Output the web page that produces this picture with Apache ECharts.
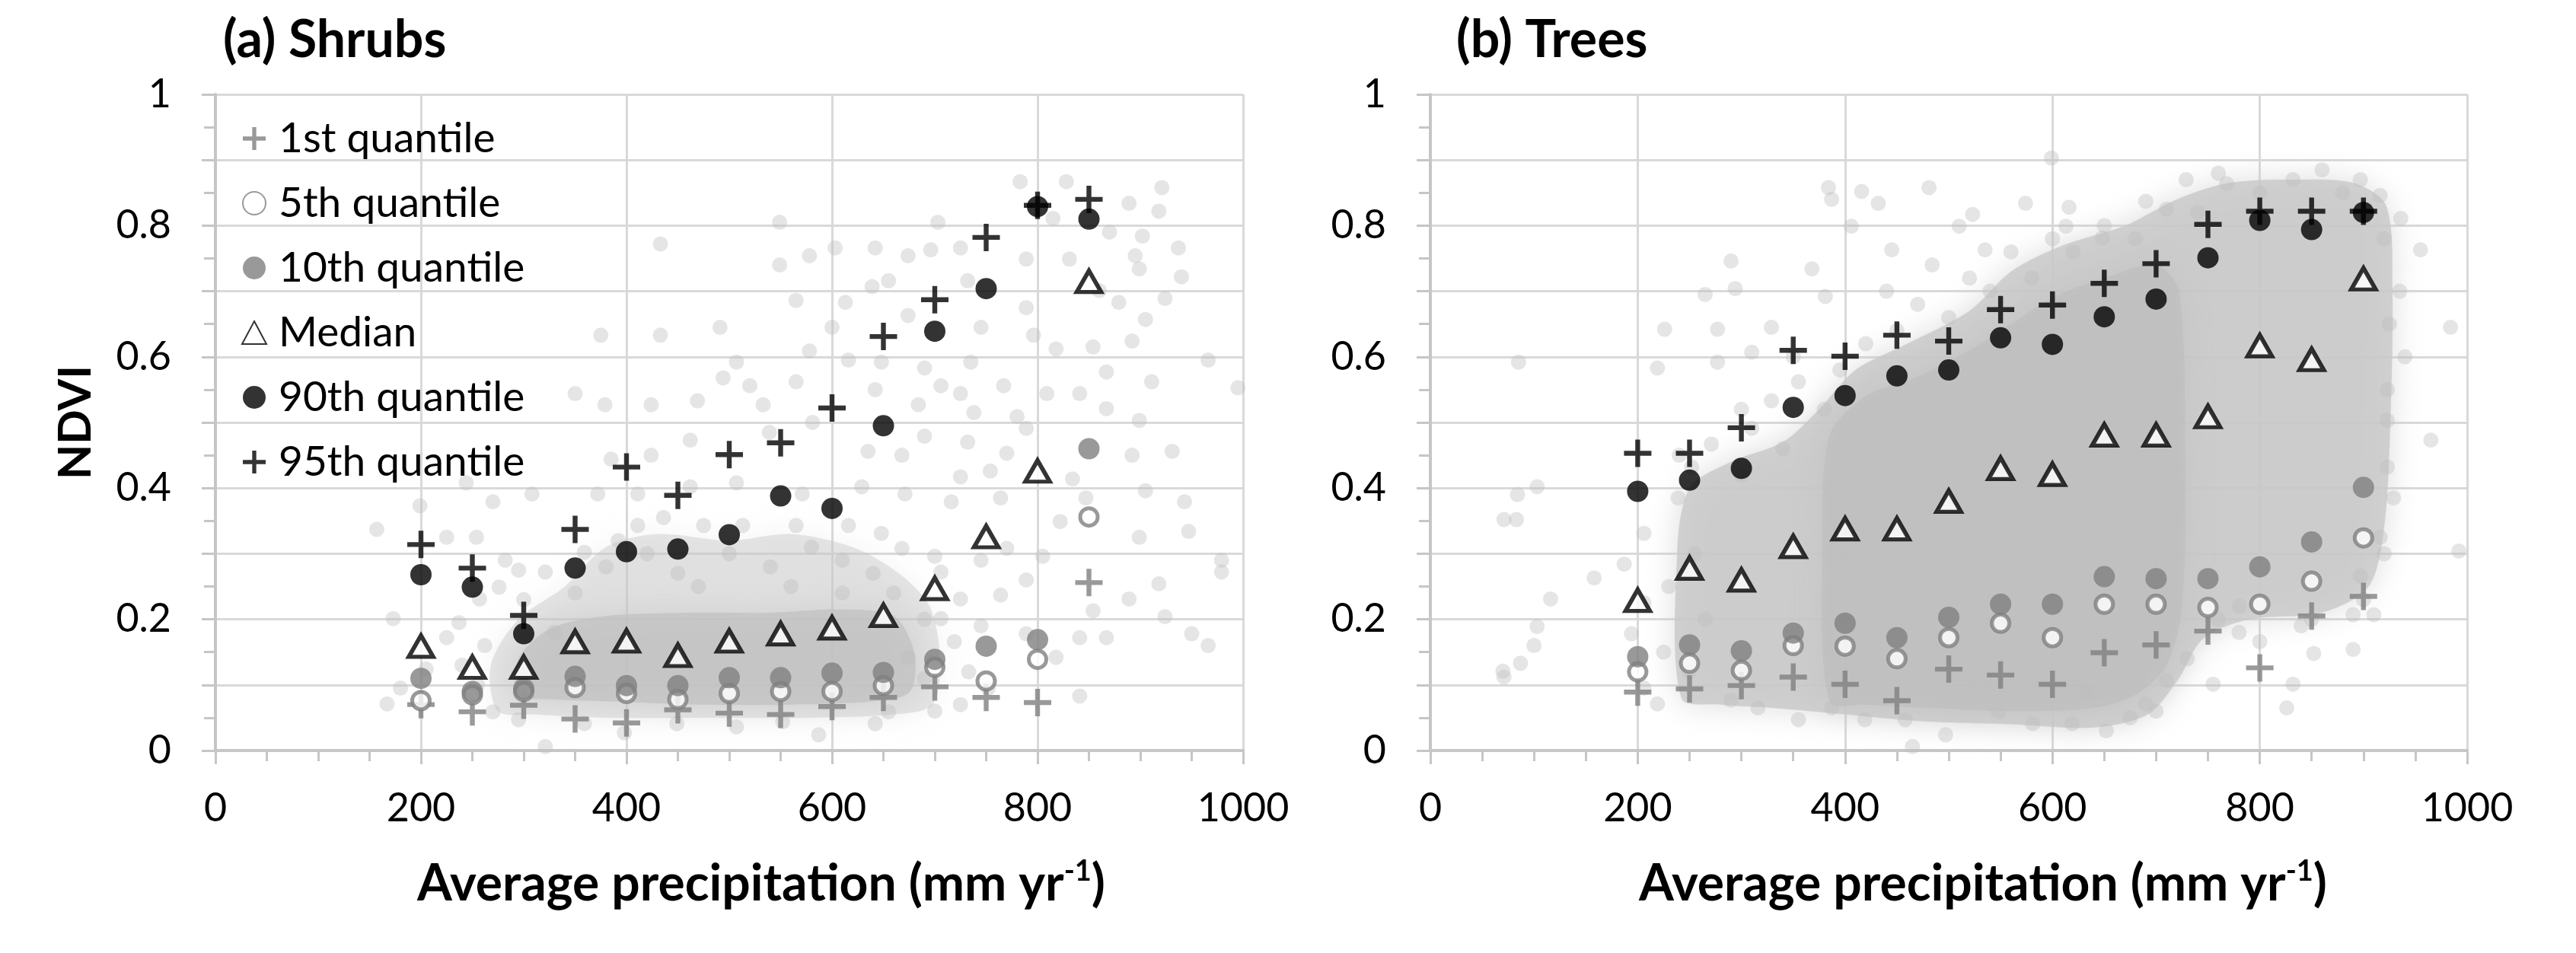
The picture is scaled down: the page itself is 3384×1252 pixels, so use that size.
<!DOCTYPE html>
<html>
<head>
<meta charset="utf-8">
<title>NDVI vs average precipitation</title>
<script src="https://cdn.jsdelivr.net/npm/echarts@6.0.0/dist/echarts.min.js"></script>
<style>
  html, body { margin: 0; padding: 0; background: #fff; }
  #chart { width: 3384px; height: 1252px; }
</style>
</head>
<body>
<div id="chart"></div>
<script>
// precipitation bins (mm yr-1)
const shrubBins = [200, 250, 300, 350, 400, 450, 500, 550, 600, 650, 700, 750, 800, 850]
const treeBins = [200, 250, 300, 350, 400, 450, 500, 550, 600, 650, 700, 750, 800, 850, 900]

// (a) shrubs - NDVI quantiles per bin
const shrubQ1 = [0.070, 0.059, 0.069, 0.048, 0.042, 0.062, 0.057, 0.055, 0.067, 0.081, 0.097, 0.081, 0.073, 0.256]
const shrubQ5 = [0.076, 0.085, 0.090, 0.096, 0.087, 0.078, 0.087, 0.090, 0.090, 0.099, 0.127, 0.106, 0.139, 0.356]
const shrubQ10 = [0.110, 0.090, 0.094, 0.113, 0.099, 0.099, 0.111, 0.111, 0.118, 0.119, 0.139, 0.159, 0.169, 0.460]
const shrubMedian = [0.159, 0.127, 0.127, 0.166, 0.167, 0.145, 0.167, 0.178, 0.187, 0.206, 0.247, 0.326, 0.426, 0.715]
const shrubQ90 = [0.268, 0.249, 0.178, 0.278, 0.303, 0.307, 0.329, 0.388, 0.369, 0.495, 0.639, 0.704, 0.829, 0.810]
const shrubQ95 = [0.314, 0.278, 0.206, 0.337, 0.432, 0.389, 0.451, 0.469, 0.522, 0.631, 0.687, 0.782, 0.831, 0.840]

// (b) trees - NDVI quantiles per bin
const treeQ1 = [0.089, 0.094, 0.099, 0.112, 0.101, 0.076, 0.124, 0.115, 0.101, 0.149, 0.161, 0.182, 0.126, 0.205, 0.235]
const treeQ5 = [0.120, 0.133, 0.122, 0.160, 0.159, 0.140, 0.172, 0.194, 0.172, 0.223, 0.223, 0.218, 0.223, 0.258, 0.324]
const treeQ10 = [0.143, 0.161, 0.152, 0.179, 0.194, 0.172, 0.203, 0.223, 0.223, 0.265, 0.262, 0.262, 0.280, 0.318, 0.401]
const treeMedian = [0.229, 0.278, 0.260, 0.311, 0.338, 0.338, 0.380, 0.430, 0.421, 0.481, 0.481, 0.509, 0.617, 0.596, 0.719]
const treeQ90 = [0.395, 0.412, 0.430, 0.523, 0.541, 0.571, 0.580, 0.629, 0.619, 0.661, 0.688, 0.751, 0.808, 0.794, 0.820]
const treeQ95 = [0.453, 0.453, 0.492, 0.610, 0.601, 0.633, 0.624, 0.672, 0.679, 0.712, 0.742, 0.802, 0.822, 0.822, 0.822]

// individual pixels (precip, NDVI)
const shrubPixels = [
  [783, 0.867], [828, 0.867], [921, 0.858], [889, 0.834], [918, 0.822], [815, 0.811], [870, 0.790], [902, 0.784],
  [937, 0.766], [549, 0.805], [703, 0.805], [642, 0.766], [674, 0.754], [696, 0.763], [725, 0.766], [789, 0.749],
  [831, 0.749], [895, 0.754], [433, 0.772], [549, 0.740], [578, 0.754], [603, 0.766], [655, 0.716], [732, 0.716],
  [940, 0.722], [899, 0.734], [860, 0.701], [879, 0.683], [924, 0.689], [565, 0.686], [613, 0.683], [639, 0.707],
  [789, 0.675], [905, 0.657], [491, 0.645], [600, 0.645], [674, 0.663], [745, 0.645], [375, 0.633], [433, 0.633],
  [796, 0.633], [818, 0.612], [892, 0.624], [854, 0.615], [578, 0.609], [616, 0.595], [648, 0.592], [690, 0.583],
  [735, 0.592], [966, 0.595], [867, 0.577], [911, 0.562], [507, 0.592], [494, 0.568], [520, 0.556], [565, 0.562],
  [642, 0.550], [706, 0.556], [767, 0.556], [809, 0.544], [841, 0.544], [995, 0.553], [350, 0.544], [379, 0.527],
  [424, 0.527], [469, 0.533], [533, 0.527], [581, 0.500], [684, 0.527], [725, 0.544], [738, 0.515], [780, 0.509],
  [867, 0.521], [899, 0.503], [789, 0.491], [690, 0.479], [732, 0.470], [770, 0.453], [892, 0.450], [931, 0.456],
  [668, 0.450], [635, 0.456], [462, 0.473], [539, 0.485], [424, 0.450], [385, 0.444], [725, 0.417], [754, 0.426],
  [834, 0.414], [905, 0.396], [943, 0.379], [244, 0.408], [270, 0.379], [308, 0.391], [372, 0.391], [411, 0.391],
  [462, 0.402], [507, 0.408], [571, 0.391], [629, 0.402], [671, 0.391], [716, 0.379], [764, 0.385], [847, 0.385],
  [822, 0.349], [899, 0.325], [947, 0.334], [979, 0.290], [979, 0.272], [918, 0.254], [889, 0.231], [924, 0.204],
  [950, 0.178], [966, 0.160], [854, 0.213], [841, 0.172], [867, 0.172], [841, 0.083], [818, 0.142], [764, 0.237],
  [789, 0.260], [745, 0.290], [770, 0.308], [805, 0.296], [157, 0.337], [199, 0.373], [225, 0.325], [254, 0.325],
  [282, 0.290], [321, 0.272], [173, 0.201], [167, 0.071], [180, 0.095], [205, 0.124], [225, 0.172], [237, 0.195],
  [257, 0.231], [276, 0.249], [295, 0.275], [359, 0.302], [392, 0.320], [411, 0.343], [436, 0.355], [475, 0.343],
  [513, 0.343], [565, 0.343], [616, 0.343], [648, 0.331], [668, 0.308], [700, 0.296], [706, 0.272], [725, 0.231],
  [706, 0.201], [719, 0.166], [642, 0.041], [587, 0.024], [552, 0.044], [507, 0.036], [449, 0.041], [398, 0.027],
  [359, 0.041], [321, 0.006], [295, 0.047], [270, 0.059], [789, 0.178], [674, 0.142], [655, 0.059], [733, 0.120],
  [752, 0.095], [745, 0.190], [725, 0.070], [690, 0.110], [700, 0.060], [255, 0.100], [240, 0.130], [262, 0.160],
  [380, 0.280], [420, 0.300], [450, 0.270], [500, 0.300], [540, 0.280], [580, 0.310], [610, 0.290], [640, 0.270],
  [350, 0.240], [470, 0.250], [560, 0.250], [660, 0.240], [300, 0.230], [330, 0.180], [690, 0.200], [610, 0.240]
]

const treePixels = [
  [71, 0.112], [70, 0.121], [87, 0.133], [71, 0.352], [83, 0.352], [84, 0.390], [103, 0.402], [85, 0.592],
  [116, 0.231], [158, 0.263], [103, 0.189], [100, 0.160], [226, 0.642], [277, 0.642], [290, 0.746], [265, 0.695],
  [294, 0.704], [219, 0.583], [277, 0.592], [310, 0.607], [329, 0.645], [384, 0.858], [387, 0.840], [416, 0.852],
  [432, 0.834], [481, 0.858], [445, 0.763], [406, 0.799], [368, 0.734], [381, 0.692], [484, 0.740], [510, 0.799],
  [523, 0.817], [535, 0.763], [574, 0.834], [616, 0.828], [613, 0.799], [648, 0.781], [690, 0.837], [710, 0.825],
  [729, 0.870], [768, 0.864], [832, 0.870], [897, 0.870], [916, 0.846], [936, 0.811], [955, 0.763], [984, 0.645],
  [965, 0.473], [992, 0.304], [923, 0.550], [923, 0.503], [923, 0.432], [929, 0.385], [916, 0.325], [897, 0.266],
  [890, 0.154], [832, 0.101], [826, 0.065], [755, 0.101], [690, 0.071], [652, 0.030], [619, 0.041], [581, 0.041],
  [548, 0.059], [497, 0.024], [465, 0.006], [458, 0.047], [419, 0.047], [387, 0.065], [355, 0.047], [316, 0.065],
  [290, 0.077], [219, 0.071], [206, 0.095], [194, 0.178], [206, 0.225], [187, 0.284], [206, 0.331], [239, 0.385],
  [252, 0.432], [271, 0.467], [310, 0.491], [329, 0.533], [355, 0.562], [890, 0.207], [910, 0.207], [800, 0.166],
  [852, 0.148], [710, 0.107], [632, 0.089], [599, 0.903], [440, 0.700], [470, 0.680], [520, 0.720], [560, 0.760],
  [600, 0.780], [650, 0.800], [420, 0.620], [350, 0.600], [300, 0.520], [240, 0.450], [225, 0.150], [230, 0.250],
  [760, 0.200], [780, 0.220], [850, 0.200], [935, 0.700], [940, 0.600], [675, 0.050], [760, 0.880], [860, 0.885],
  [250, 0.120], [265, 0.200], [255, 0.300], [300, 0.420], [340, 0.460], [380, 0.520], [395, 0.580], [450, 0.640],
  [500, 0.660], [540, 0.700], [580, 0.720], [620, 0.760], [680, 0.780], [740, 0.820], [800, 0.850], [880, 0.850],
  [920, 0.780], [925, 0.650], [920, 0.300], [900, 0.230], [840, 0.190], [780, 0.180], [730, 0.140], [700, 0.060]
]

// outlines of the areas where pixels pile up into solid grey
const shrubCloudOuter = [
  [275, 0.06], [268, 0.13], [295, 0.20], [340, 0.25], [380, 0.31], [430, 0.33], [500, 0.32], [560, 0.33],
  [620, 0.31], [665, 0.27], [695, 0.22], [705, 0.14], [698, 0.07], [660, 0.055], [580, 0.05], [480, 0.05],
  [380, 0.05], [310, 0.055]
]
const shrubCloudCore = [
  [295, 0.085], [295, 0.14], [325, 0.185], [380, 0.205], [460, 0.21], [540, 0.21], [610, 0.215], [660, 0.205],
  [680, 0.15], [676, 0.09], [640, 0.075], [560, 0.07], [470, 0.07], [380, 0.075], [330, 0.078]
]
const treeCloudOuter = [
  [242, 0.08], [238, 0.30], [250, 0.40], [290, 0.44], [340, 0.47], [375, 0.52], [410, 0.58], [460, 0.62],
  [520, 0.67], [560, 0.73], [610, 0.77], [670, 0.80], [720, 0.84], [770, 0.865], [830, 0.87], [890, 0.865],
  [922, 0.83], [928, 0.70], [926, 0.50], [920, 0.34], [905, 0.25], [860, 0.21], [790, 0.20], [745, 0.17],
  [722, 0.11], [692, 0.055], [640, 0.035], [560, 0.04], [470, 0.045], [400, 0.055], [330, 0.065], [280, 0.07]
]
const treeCloudCore = [
  [385, 0.075], [378, 0.30], [385, 0.48], [420, 0.54], [470, 0.57], [520, 0.61], [560, 0.65], [600, 0.69],
  [650, 0.72], [700, 0.74], [722, 0.70], [728, 0.45], [725, 0.22], [710, 0.13], [680, 0.085], [640, 0.065],
  [560, 0.06], [480, 0.065], [420, 0.07]
]

const yLabelValues = [0, 0.2, 0.4, 0.6, 0.8, 1]
const seriesNames = ['1st quantile', '5th quantile', '10th quantile', 'Median', '90th quantile', '95th quantile']

const FONT = 'Lato'
const GREY = '#7f7f7f'
// filled "+" marker
const PLUS = 'path://M-3.2,-18H3.2V-3.2H18V3.2H3.2V18H-3.2V3.2H-18V-3.2H-3.2Z'

const markerStyles = [
  { symbol: PLUS, symbolSize: 36, itemStyle: { color: GREY } },
  { symbol: 'circle', symbolSize: 23, itemStyle: { color: '#fff', borderColor: GREY, borderWidth: 5 } },
  { symbol: 'circle', symbolSize: 28, itemStyle: { color: GREY } },
  { symbol: 'triangle', symbolSize: [32, 28], itemStyle: { color: '#fff', borderColor: '#000', borderWidth: 5.5 } },
  { symbol: 'circle', symbolSize: 28, itemStyle: { color: '#000' } },
  { symbol: PLUS, symbolSize: 36, itemStyle: { color: '#000' } }
]

function pairs (bins, values) {
  return bins.map((b, i) => [b, values[i]])
}

function cloudSeries (verts, fill, gridIndex) {
  return {
    type: 'custom',
    xAxisIndex: gridIndex,
    yAxisIndex: gridIndex,
    silent: true,
    z: 1,
    data: verts,
    renderItem (params, api) {
      if (params.dataIndex !== 0) return null
      return {
        type: 'polygon',
        shape: { points: verts.map(v => api.coord(v)), smooth: 0.3 },
        style: { fill: fill, shadowBlur: 40, shadowColor: fill }
      }
    }
  }
}

function pixelSeries (pts, gridIndex) {
  return {
    type: 'scatter',
    xAxisIndex: gridIndex,
    yAxisIndex: gridIndex,
    silent: true,
    z: 2,
    symbolSize: 20,
    itemStyle: { color: '#bdbdbd', opacity: 0.4 },
    data: pts
  }
}

function quantileSeries (bins, groups, gridIndex) {
  return groups.map((vals, i) => Object.assign({
    name: seriesNames[i],
    type: 'scatter',
    xAxisIndex: gridIndex,
    yAxisIndex: gridIndex,
    z: 10 + i,
    data: pairs(bins, vals)
  }, markerStyles[i]))
}

const axisGrey = '#c6c6c6'
const xNameStyle = (shift) => ({
  padding: [0, 0, 0, shift],
  rich: {
    a: { fontFamily: FONT, fontWeight: 'bold', fontSize: 66, color: '#000', lineHeight: 80 },
    s: { fontFamily: FONT, fontWeight: 'bold', fontSize: 38, color: '#000', lineHeight: 80, verticalAlign: 'top', padding: [4, 0, 0, 0] }
  }
})

function xAxis (gridIndex, shift) {
  return {
    type: 'value',
    gridIndex: gridIndex,
    min: 0,
    max: 1000,
    interval: 200,
    name: '{a|Average precipitation (mm yr}{s|-1}{a|)}',
    nameLocation: 'middle',
    nameGap: 136,
    nameTextStyle: xNameStyle(shift),
    axisLine: { lineStyle: { color: axisGrey, width: 4 } },
    axisTick: { show: true, length: 18, lineStyle: { color: axisGrey, width: 3 } },
    minorTick: { show: true, splitNumber: 4, length: 14, lineStyle: { color: axisGrey, width: 3 } },
    splitLine: { show: true, lineStyle: { color: '#d9d9d9', width: 3 } },
    axisLabel: { fontFamily: FONT, fontSize: 52, color: '#000', margin: 50, formatter: v => String(v) }
  }
}

function yAxis (gridIndex, withName) {
  return {
    type: 'value',
    gridIndex: gridIndex,
    min: 0,
    max: 1,
    interval: 0.1,
    name: withName ? 'NDVI' : '',
    nameLocation: 'middle',
    nameGap: 153,
    nameTextStyle: { fontFamily: FONT, fontWeight: 'bold', fontSize: 60, color: '#000' },
    axisLine: { show: true, lineStyle: { color: axisGrey, width: 4 } },
    axisTick: { show: true, length: 18, lineStyle: { color: axisGrey, width: 3 } },
    minorTick: { show: true, splitNumber: 2, length: 15, lineStyle: { color: axisGrey, width: 3 } },
    splitLine: { show: true, lineStyle: { color: '#d9d9d9', width: 3 } },
    axisLabel: {
      fontFamily: FONT,
      fontSize: 52,
      color: '#000',
      margin: 58,
      formatter: v => {
        const r = Math.round(v * 10) / 10
        return yLabelValues.includes(r) ? String(r) : ''
      }
    }
  }
}

const option = {
  backgroundColor: '#fff',
  animation: false,
  title: [
    { text: '(a) Shrubs', left: 288, top: 14, textStyle: { fontFamily: FONT, fontWeight: 'bold', fontSize: 68, color: '#000' } },
    { text: '(b) Trees', left: 1908, top: 14, textStyle: { fontFamily: FONT, fontWeight: 'bold', fontSize: 68, color: '#000' } }
  ],
  legend: {
    data: seriesNames,
    orient: 'vertical',
    left: 312,
    top: 147,
    itemWidth: 32,
    itemHeight: 30,
    itemGap: 25,
    selectedMode: false,
    textStyle: { fontFamily: FONT, fontSize: 55, color: '#000', lineHeight: 60, padding: [0, 0, 0, 11] }
  },
  grid: [
    { left: 283, right: 1751, top: 124, bottom: 266 },
    { left: 1879, right: 143, top: 124, bottom: 266 }
  ],
  xAxis: [xAxis(0, 84), xAxis(1, 90)],
  yAxis: [yAxis(0, true), yAxis(1, false)],
  series: [
    cloudSeries(shrubCloudOuter, 'rgba(200,200,200,0.45)', 0),
    cloudSeries(shrubCloudCore, 'rgba(192,192,192,0.7)', 0),
    pixelSeries(shrubPixels, 0),
    cloudSeries(treeCloudOuter, 'rgba(200,200,200,0.8)', 1),
    cloudSeries(treeCloudCore, 'rgba(190,190,190,0.7)', 1),
    pixelSeries(treePixels, 1)
  ].concat(
    quantileSeries(shrubBins, [shrubQ1, shrubQ5, shrubQ10, shrubMedian, shrubQ90, shrubQ95], 0),
    quantileSeries(treeBins, [treeQ1, treeQ5, treeQ10, treeMedian, treeQ90, treeQ95], 1)
  )
}

const chart = echarts.init(document.getElementById('chart'))
chart.setOption(option)
</script>
</body>
</html>
